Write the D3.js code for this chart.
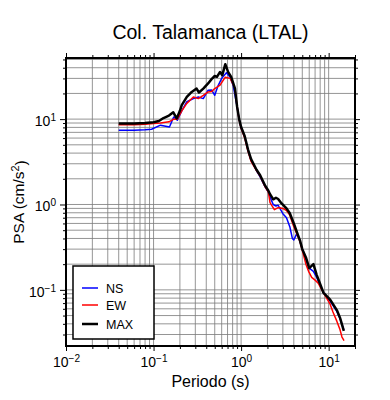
<!DOCTYPE html>
<html>
<head>
<meta charset="utf-8">
<script src="https://cdn.jsdelivr.net/npm/d3@7"></script>
<style>
  body { margin: 0; background: #fff; }
  svg { font-family: "Liberation Sans", Arial, sans-serif; }
</style>
</head>
<body>
<div id="chart-area"></div>
<script>
// values
const nsPeriod = [0.04,0.06,0.08,0.095,0.12,0.152,0.17,0.187,0.21,0.24,0.285,0.325,0.37,0.42,0.46,0.5,0.54,0.6,0.68,0.75,0.81,0.9,0.95,1.0,1.1,1.2,1.3,1.5,1.65,1.89,2.05,2.14,2.33,2.5,2.65,3.0,3.3,3.6,3.85,4.0,4.3,4.6,5.0,5.5,6.0,6.7,7.3,8.7,10.4,12.4,13.5,14.9];
const nsPsa = [7.4,7.4,7.5,7.6,8.5,8.1,10.6,9.7,12.5,16,17.4,18.2,17.4,21.8,22,19,24,30,35,31,25,14,10,7.9,6.2,4.3,3.3,2.5,2.1,1.6,1.4,1.22,1.0,0.96,0.98,0.78,0.7,0.55,0.4,0.385,0.45,0.4,0.3,0.23,0.18,0.165,0.14,0.093,0.074,0.056,0.046,0.034];

const ewPeriod = [0.04,0.06,0.08,0.1,0.12,0.15,0.17,0.187,0.21,0.24,0.285,0.325,0.37,0.42,0.46,0.5,0.575,0.66,0.75,0.85,0.9,0.95,1.0,1.1,1.2,1.3,1.5,1.65,1.89,2.05,2.14,2.4,2.65,3.0,3.3,3.6,4.0,4.35,4.7,5.0,5.5,5.9,6.4,7.0,7.6,8.7,10.4,11.2,12.4,13.5,14.2,15];
const ewPsa = [8.6,8.6,8.7,8.9,9.0,9.3,10,10,12.5,15.3,18.2,17.4,19,20.8,21,22.8,25,31,30,23,14,9.8,7.8,6,4.2,3.2,2.5,2.15,1.6,1.4,1.05,0.87,0.92,0.9,0.85,0.75,0.55,0.45,0.37,0.29,0.2,0.165,0.14,0.13,0.12,0.093,0.068,0.055,0.043,0.034,0.028,0.0255];

const maxPeriod = [0.04,0.06,0.08,0.1,0.115,0.13,0.15,0.168,0.184,0.2,0.21,0.24,0.273,0.31,0.33,0.37,0.42,0.46,0.5,0.53,0.575,0.61,0.66,0.71,0.77,0.85,0.9,0.95,1.0,1.1,1.2,1.3,1.5,1.65,1.89,2.05,2.14,2.33,2.5,2.65,2.9,3.3,3.6,4.0,4.35,4.7,5.0,5.5,6.0,6.7,7.3,8.7,10.4,12.4,13.5,14.9];
const maxPsa = [8.9,8.9,9.0,9.2,9.5,10.3,11,12,10.2,12.5,14.6,18.2,20.8,22.8,20.5,22.8,26.2,29.4,32,31.3,35.7,32.7,44,35.7,31.3,22.9,14,10,8.1,6.3,4.4,3.4,2.55,2.2,1.65,1.45,1.32,1.15,1.2,1.16,1.03,0.9,0.79,0.6,0.47,0.38,0.3,0.24,0.18,0.2,0.15,0.093,0.077,0.058,0.047,0.033];

const seriesNames = ['NS', 'EW', 'MAX'];
const seriesColors = ['#0000ff', '#ff0000', '#000000'];
const seriesWidths = [1.5, 1.5, 2.5];

const xMajor = [0.01, 0.1, 1, 10];
const yMajor = [0.1, 1, 10];
const xMajorExp = ['\u22122', '\u22121', '0', '1'];
const yMajorExp = ['\u22121', '0', '1'];

const widthSvg = 390;
const heightSvg = 400;
const margin = { top: 58, right: 35, bottom: 54, left: 66 };
const widthChart = widthSvg - margin.left - margin.right;
const heightChart = heightSvg - margin.top - margin.bottom;

const scaleX = d3.scaleLog().domain([0.01, 20]).range([0, widthChart]);
const scaleY = d3.scaleLog().domain([0.022, 52]).range([heightChart, 0]);

// 1..9 times each decade, kept inside the domain
const minorIn = (scale, decades) => {
  const [lo, hi] = scale.domain();
  const out = [];
  decades.forEach(p => d3.range(1, 10).forEach(k => {
    const v = +(k * p).toPrecision(3);
    if (v >= lo && v <= hi) out.push(v);
  }));
  return out;
};
const xGrid = minorIn(scaleX, [0.01, 0.1, 1, 10]);
const yGrid = minorIn(scaleY, [0.01, 0.1, 1, 10]);
const xMinor = xGrid.filter(v => !xMajor.includes(v));
const yMinor = yGrid.filter(v => !yMajor.includes(v));

const svg = d3.select('#chart-area')
  .append('svg')
    .attr('width', widthSvg)
    .attr('height', heightSvg);

const chart = svg.append('g')
  .attr('transform', `translate(${margin.left}, ${margin.top})`);

// grid
chart.append('g')
  .selectAll('line')
  .data(xGrid)
  .enter().append('line')
    .attr('x1', d => scaleX(d)).attr('x2', d => scaleX(d))
    .attr('y1', 0).attr('y2', heightChart)
    .attr('stroke', '#7a7a7a').attr('stroke-width', 0.8);

chart.append('g')
  .selectAll('line')
  .data(yGrid)
  .enter().append('line')
    .attr('y1', d => scaleY(d)).attr('y2', d => scaleY(d))
    .attr('x1', 0).attr('x2', widthChart)
    .attr('stroke', '#7a7a7a').attr('stroke-width', 0.8);

// curves
chart.append('clipPath').attr('id', 'clip')
  .append('rect').attr('width', widthChart).attr('height', heightChart);

const line = d3.line()
  .x(d => scaleX(d[0]))
  .y(d => scaleY(d[1]));

const series = [
  d3.zip(nsPeriod, nsPsa),
  d3.zip(ewPeriod, ewPsa),
  d3.zip(maxPeriod, maxPsa)
];

chart.append('g').attr('clip-path', 'url(#clip)')
  .selectAll('path')
  .data(series)
  .enter().append('path')
    .attr('d', line)
    .attr('fill', 'none')
    .attr('stroke', (d, i) => seriesColors[i])
    .attr('stroke-width', (d, i) => seriesWidths[i])
    .attr('stroke-linejoin', 'round');

// axes: majors with labels, minors as short ticks, on all four sides
const styleAxis = g => {
  g.select('.domain').remove();
  g.selectAll('.tick line').attr('stroke', '#000').attr('stroke-width', 1);
};

const supLabels = (g, exps) => {
  g.selectAll('.tick text').each(function (d, i) {
    const t = d3.select(this).text(null).attr('font-size', 14).attr('fill', '#000');
    t.append('tspan').text('10');
    t.append('tspan').attr('dy', '-0.5em').attr('font-size', '0.72em').text(exps[i]);
  });
};

chart.append('g')
  .attr('transform', `translate(0, ${heightChart})`)
  .call(d3.axisBottom(scaleX).tickValues(xMajor).tickSize(5).tickPadding(6))
  .call(styleAxis)
  .call(g => supLabels(g, xMajorExp));

chart.append('g')
  .attr('transform', `translate(0, ${heightChart})`)
  .call(d3.axisBottom(scaleX).tickValues(xMinor).tickSize(3).tickFormat(''))
  .call(styleAxis);

chart.append('g')
  .call(d3.axisTop(scaleX).tickValues(xMajor).tickSize(5).tickFormat(''))
  .call(styleAxis);

chart.append('g')
  .call(d3.axisTop(scaleX).tickValues(xMinor).tickSize(3).tickFormat(''))
  .call(styleAxis);

chart.append('g')
  .call(d3.axisLeft(scaleY).tickValues(yMajor).tickSize(6).tickPadding(4))
  .call(styleAxis)
  .call(g => supLabels(g, yMajorExp))
  .call(g => g.selectAll('.tick text').attr('dy', '0.45em'));

chart.append('g')
  .call(d3.axisLeft(scaleY).tickValues(yMinor).tickSize(3).tickFormat(''))
  .call(styleAxis);

chart.append('g')
  .attr('transform', `translate(${widthChart}, 0)`)
  .call(d3.axisRight(scaleY).tickValues(yMajor).tickSize(5).tickFormat(''))
  .call(styleAxis);

chart.append('g')
  .attr('transform', `translate(${widthChart}, 0)`)
  .call(d3.axisRight(scaleY).tickValues(yMinor).tickSize(3).tickFormat(''))
  .call(styleAxis);

// frame
chart.append('rect')
  .attr('width', widthChart)
  .attr('height', heightChart)
  .attr('fill', 'none')
  .attr('stroke', '#000')
  .attr('stroke-width', 2);

// legend
const legend = chart.append('g').attr('transform', 'translate(7, 208)');
legend.append('rect')
  .attr('width', 81).attr('height', 73)
  .attr('fill', '#fff').attr('stroke', '#000').attr('stroke-width', 1.5);

const entries = legend.selectAll('.entry')
  .data(seriesNames)
  .enter().append('g')
    .attr('transform', (d, i) => `translate(0, ${[22, 39, 58][i]})`);

entries.append('line')
  .attr('x1', 9).attr('x2', 25)
  .attr('stroke', (d, i) => seriesColors[i])
  .attr('stroke-width', (d, i) => seriesWidths[i]);

entries.append('text')
  .attr('x', 33).attr('dy', '0.36em')
  .attr('font-size', 12.5)
  .text(d => d);

// titles
svg.append('text')
  .attr('x', margin.left + widthChart / 2)
  .attr('y', 39)
  .attr('text-anchor', 'middle')
  .attr('font-size', 19.5)
  .text('Col. Talamanca (LTAL)');

svg.append('text')
  .attr('x', margin.left + widthChart / 2)
  .attr('y', 387)
  .attr('text-anchor', 'middle')
  .attr('font-size', 16)
  .text('Periodo (s)');

const yLabel = svg.append('text')
  .attr('transform', `translate(24, ${margin.top + heightChart / 2}) rotate(-90)`)
  .attr('text-anchor', 'middle')
  .attr('font-size', 15.5);
yLabel.append('tspan').text('PSA (cm/s');
yLabel.append('tspan').attr('dy', '-0.45em').attr('font-size', '0.7em').text('2');
yLabel.append('tspan').attr('dy', '0.45em').text(')');
</script>
</body>
</html>
